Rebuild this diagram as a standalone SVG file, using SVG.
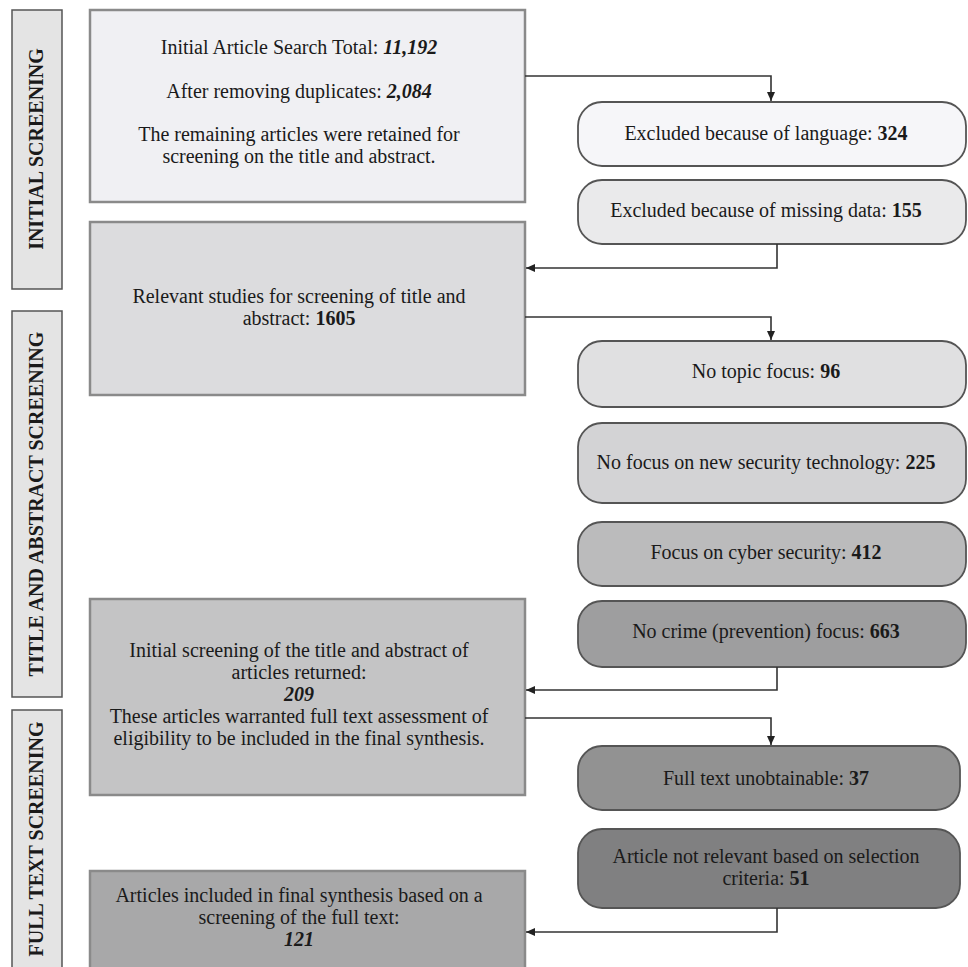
<svg xmlns="http://www.w3.org/2000/svg" width="968" height="967" viewBox="0 0 968 967">
<defs>
<marker id="arr" markerWidth="10" markerHeight="10" refX="9" refY="5" orient="auto" markerUnits="userSpaceOnUse">
<path d="M0,1 L9,5 L0,9 z" fill="#222"/>
</marker>
<style>
text{font-family:"Liberation Serif","Times New Roman",serif;font-size:20px;fill:#1a1a1a;text-anchor:middle}
.lab{font-weight:bold;font-size:20px}
.lbox{fill:#e4e4e4;stroke:#555;stroke-width:1.5}
.mbox{stroke:#8a8a8a;stroke-width:2.5}
.rbox{stroke:#555;stroke-width:1.8}
.conn{fill:none;stroke:#333;stroke-width:1.6}
.b{font-weight:bold}
.bi{font-weight:bold;font-style:italic}
</style>
</defs>
<rect width="968" height="967" fill="#ffffff"/>

<g id="label-initial">
<rect class="lbox" x="12" y="10" width="50" height="279"/>
<text class="lab" transform="translate(43,149) rotate(-90)">INITIAL SCREENING</text>
</g>
<g id="label-title">
<rect class="lbox" x="12" y="311" width="50" height="386"/>
<text class="lab" transform="translate(43,504) rotate(-90)">TITLE AND ABSTRACT SCREENING</text>
</g>
<g id="label-full">
<rect class="lbox" x="12" y="710" width="50" height="270"/>
<text class="lab" transform="translate(43,839) rotate(-90)">FULL TEXT SCREENING</text>
</g>

<g id="box-initial">
<rect class="mbox" x="90" y="10" width="435" height="192" fill="#f0f0f3"/>
<text x="299" y="54">Initial Article Search Total: <tspan class="bi">11,192</tspan></text>
<text x="299" y="98">After removing duplicates: <tspan class="bi">2,084</tspan></text>
<text x="299" y="141">The remaining articles were retained for</text>
<text x="299" y="163">screening on the title and abstract.</text>
</g>

<g id="box-relevant">
<rect class="mbox" x="90" y="222" width="435" height="173" fill="#dcdcde"/>
<text x="299" y="303">Relevant studies for screening of title and</text>
<text x="299" y="325">abstract: <tspan class="b">1605</tspan></text>
</g>

<g id="box-209">
<rect class="mbox" x="90" y="599" width="435" height="196" fill="#c4c4c5"/>
<text x="299" y="657">Initial screening of the title and abstract of</text>
<text x="299" y="679">articles returned:</text>
<text x="299" y="701" class="bi">209</text>
<text x="299" y="723">These articles warranted full text assessment of</text>
<text x="299" y="745">eligibility to be included in the final synthesis.</text>
</g>

<g id="box-121">
<rect class="mbox" x="90" y="871" width="435" height="110" fill="#a8a8a9"/>
<text x="299" y="902">Articles included in final synthesis based on a</text>
<text x="299" y="924">screening of the full text:</text>
<text x="299" y="946" class="bi">121</text>
</g>

<g id="ex-language">
<rect class="rbox" x="578" y="102" width="388" height="64" rx="24" fill="#f6f6f9"/>
<text x="766" y="140">Excluded because of language: <tspan class="b">324</tspan></text>
</g>
<g id="ex-missing">
<rect class="rbox" x="578" y="180" width="388" height="64" rx="24" fill="#eaeaeb"/>
<text x="766" y="217">Excluded because of missing data: <tspan class="b">155</tspan></text>
</g>
<g id="ex-topic">
<rect class="rbox" x="578" y="341" width="388" height="66" rx="24" fill="#e0e0e1"/>
<text x="766" y="378">No topic focus: <tspan class="b">96</tspan></text>
</g>
<g id="ex-newtech">
<rect class="rbox" x="578" y="423" width="388" height="80" rx="24" fill="#d3d3d5"/>
<text x="766" y="469">No focus on new security technology: <tspan class="b">225</tspan></text>
</g>
<g id="ex-cyber">
<rect class="rbox" x="578" y="522" width="388" height="64" rx="24" fill="#bbbbbc"/>
<text x="766" y="559">Focus on cyber security: <tspan class="b">412</tspan></text>
</g>
<g id="ex-crime">
<rect class="rbox" x="578" y="601" width="388" height="66" rx="24" fill="#9e9e9f"/>
<text x="766" y="638">No crime (prevention) focus: <tspan class="b">663</tspan></text>
</g>
<g id="ex-fulltext">
<rect class="rbox" x="578" y="746" width="382" height="64" rx="24" fill="#929292"/>
<text x="766" y="785">Full text unobtainable: <tspan class="b">37</tspan></text>
</g>
<g id="ex-notrelevant">
<rect class="rbox" x="578" y="829" width="382" height="79" rx="24" fill="#808081"/>
<text x="766" y="863">Article not relevant based on selection</text>
<text x="766" y="885">criteria: <tspan class="b">51</tspan></text>
</g>

<g id="connectors">
<path class="conn" d="M525,76 H771 V101" marker-end="url(#arr)"/>
<path class="conn" d="M777,244 V268 H526" marker-end="url(#arr)"/>
<path class="conn" d="M525,317 H771 V340" marker-end="url(#arr)"/>
<path class="conn" d="M777,667 V690 H526" marker-end="url(#arr)"/>
<path class="conn" d="M525,718 H771 V745" marker-end="url(#arr)"/>
<path class="conn" d="M777,908 V932 H526" marker-end="url(#arr)"/>
</g>
</svg>
